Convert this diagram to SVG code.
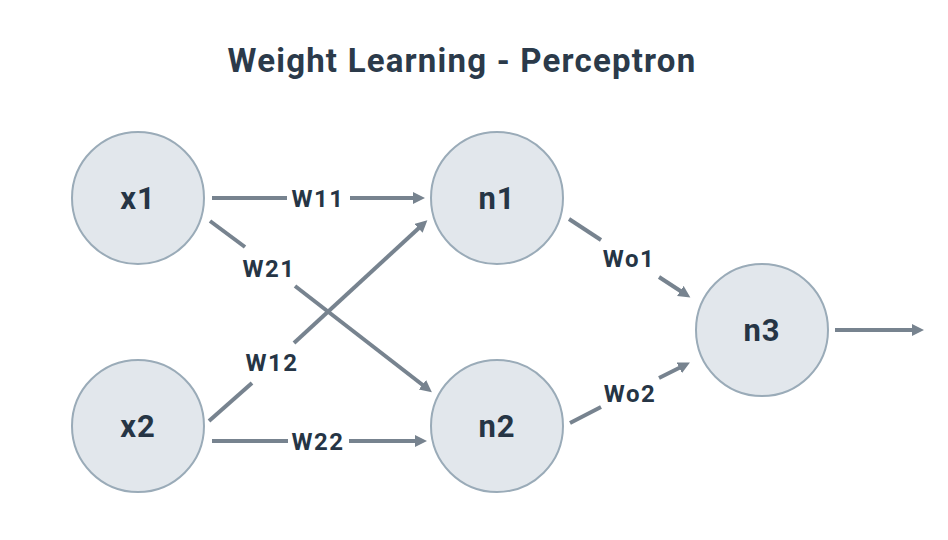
<svg xmlns="http://www.w3.org/2000/svg" width="948" height="540" viewBox="0 0 948 540">
<defs>
<style>
.node circle{fill:#e2e7ec;stroke:#9aabb8;stroke-width:2}
.node text{font-family:Roboto,"Liberation Sans",sans-serif;font-weight:bold;font-size:31px;fill:#263545;text-anchor:middle;letter-spacing:1px}
.edge{stroke:#77838f;stroke-width:4;fill:none}
.lbl{font-family:Roboto,"Liberation Sans",sans-serif;font-weight:bold;font-size:24px;fill:#263545;text-anchor:middle;letter-spacing:1.5px}
.title{font-family:Roboto,"Liberation Sans",sans-serif;font-weight:bold;font-size:33px;fill:#2b3a4a;text-anchor:middle;letter-spacing:1.2px}
</style>
<marker id="ah" markerUnits="userSpaceOnUse" markerWidth="14" markerHeight="14" refX="2" refY="6" orient="auto"><path d="M0,0 L12,6 L0,12 z" fill="#77838f"/></marker>
</defs>
<rect width="948" height="540" fill="#fff"/>
<text class="title" x="462" y="72">Weight Learning - Perceptron</text>
<g id="connectors">
<line class="edge" x1="212" y1="198" x2="287" y2="198"/>
<line class="edge" x1="350" y1="198" x2="415" y2="198" marker-end="url(#ah)"/>
<text class="lbl" x="318" y="207">W11</text>
<line class="edge" x1="210" y1="221" x2="245" y2="247"/>
<line class="edge" x1="295" y1="286" x2="424" y2="386" marker-end="url(#ah)"/>
<text class="lbl" x="269" y="277">W21</text>
<line class="edge" x1="209" y1="421" x2="252" y2="383"/>
<line class="edge" x1="294" y1="343" x2="420" y2="227" marker-end="url(#ah)"/>
<text class="lbl" x="272" y="371">W12</text>
<line class="edge" x1="212" y1="441" x2="288" y2="441"/>
<line class="edge" x1="349" y1="441" x2="417" y2="441" marker-end="url(#ah)"/>
<text class="lbl" x="318" y="450">W22</text>
<line class="edge" x1="569" y1="219" x2="601" y2="240"/>
<line class="edge" x1="659" y1="277" x2="682" y2="292" marker-end="url(#ah)"/>
<text class="lbl" x="629" y="267">Wo1</text>
<line class="edge" x1="570" y1="423" x2="601" y2="407"/>
<line class="edge" x1="659" y1="378" x2="681" y2="367" marker-end="url(#ah)"/>
<text class="lbl" x="630" y="402">Wo2</text>
<line class="edge" x1="835" y1="330" x2="914" y2="330" marker-end="url(#ah)"/>
</g>
<g id="x1" class="node"><circle cx="138" cy="198" r="66"/><text x="138" y="209">x1</text></g>
<g id="x2" class="node"><circle cx="138" cy="426" r="66"/><text x="138" y="437">x2</text></g>
<g id="n1" class="node"><circle cx="497" cy="198" r="66"/><text x="497" y="209">n1</text></g>
<g id="n2" class="node"><circle cx="497" cy="426" r="66"/><text x="497" y="437">n2</text></g>
<g id="n3" class="node"><circle cx="762" cy="330" r="66"/><text x="762" y="341">n3</text></g>
</svg>
